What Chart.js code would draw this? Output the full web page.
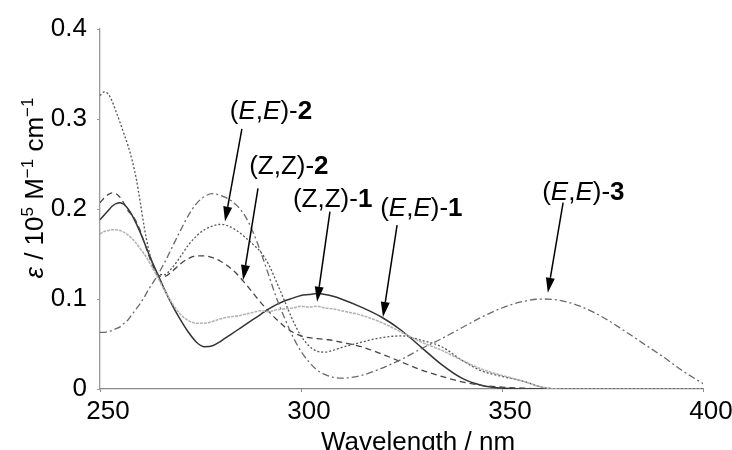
<!DOCTYPE html>
<html>
<head>
<meta charset="utf-8">
<script src="https://cdn.jsdelivr.net/npm/chart.js@4.4.1/dist/chart.umd.min.js"></script>
<style>
  html, body { margin: 0; padding: 0; background: #fff; }
  canvas { display: block; }
</style>
</head>
<body>
<canvas id="c" width="732" height="450"></canvas>
<script>
// ---- data ----
const wavelength = [250,251,252,253,254,255,256,257,258,259,260,261,262,263,264,
  266,268,270,272,274,276,278,280,282,284,286,288,290,292,294,296,298,300,302,304,306,308,310,
  315,320,325,330,335,340,345,350,355,360,365,370,375,380,385,390,395,400];

// (Z,Z)-1  solid
const zz1 = [0.188,0.193,0.198,0.203,0.206,0.207,0.205,0.200,0.193,0.184,0.174,0.163,0.152,0.141,0.131,
  0.111,0.093,0.077,0.063,0.052,0.047,0.048,0.053,0.059,0.065,0.071,0.077,0.083,0.089,0.094,0.098,0.101,0.104,0.105,0.106,0.105,0.103,0.100,
  0.091,0.080,0.065,0.046,0.027,0.012,0.004,0.001,0,0,0,0,0,0,0,0,0,0];

// (E,E)-1  light grey
const ee1 = [0.172,0.175,0.176,0.177,0.177,0.176,0.174,0.171,0.167,0.162,0.156,0.150,0.143,0.135,0.127,
  0.110,0.095,0.083,0.076,0.073,0.073,0.075,0.078,0.080,0.081,0.083,0.085,0.087,0.086,0.088,0.089,0.090,0.092,0.091,0.092,0.090,0.089,0.087,
  0.082,0.074,0.063,0.052,0.043,0.032,0.022,0.015,0.009,0.002,0,0,0,0,0,0,0,0];

// (E,E)-2  fine dotted
const ee2 = [0.326,0.330,0.328,0.320,0.308,0.296,0.283,0.270,0.254,0.234,0.208,0.180,0.157,0.140,0.130,
  0.127,0.135,0.147,0.160,0.170,0.177,0.181,0.183,0.181,0.176,0.169,0.161,0.152,0.138,0.118,0.097,0.076,0.059,0.048,0.042,0.041,0.043,0.046,
  0.052,0.057,0.059,0.054,0.047,0.032,0.020,0.014,0.009,0.002,0,0,0,0,0,0,0,0];

// (Z,Z)-2  dashed
const zz2 = [0.207,0.212,0.216,0.218,0.217,0.213,0.206,0.198,0.193,0.186,0.176,0.163,0.150,0.138,0.128,
  0.125,0.131,0.139,0.145,0.148,0.148,0.146,0.142,0.136,0.128,0.118,0.107,0.096,0.086,0.077,0.069,0.063,0.059,0.057,0.056,0.055,0.054,0.052,
  0.047,0.039,0.030,0.021,0.014,0.008,0.004,0.002,0.001,0,0,0,0,0,0,0,0,0];

// (E,E)-3  dash-dot
const ee3 = [0.063,0.063,0.064,0.065,0.067,0.069,0.073,0.077,0.083,0.089,0.095,0.102,0.110,0.117,0.124,
  0.140,0.158,0.176,0.193,0.206,0.214,0.217,0.215,0.211,0.204,0.193,0.175,0.152,0.126,0.100,0.078,0.058,0.042,0.030,0.021,0.016,0.013,0.012,
  0.015,0.023,0.033,0.045,0.056,0.068,0.080,0.090,0.097,0.100,0.098,0.091,0.080,0.066,0.051,0.036,0.020,0.006];

const xTickValues = [250, 300, 350, 400];
const yTickLabels = ['0', '0.1', '0.2', '0.3', '0.4'];

// annotation labels: [text, style] ; style '' normal, 'i' italic, 'b' bold
const annotations = [
  { label: [['(',''],['E','i'],[',',''],['E','i'],[')-',''],['2','b']], tx: 282.3, ty: 0.300, ax0: 285.3, ay0: 0.289, ax1: 281.1, ay1: 0.186 },
  { label: [['(Z,Z)-',''],['2','b']], tx: 287.1, ty: 0.239, ax0: 289.3, ay0: 0.223, ax1: 285.6, ay1: 0.121 },
  { label: [['(Z,Z)-',''],['1','b']], tx: 298.0, ty: 0.202, ax0: 307.2, ay0: 0.197, ax1: 304.0, ay1: 0.097 },
  { label: [['(',''],['E','i'],[',',''],['E','i'],[')-',''],['1','b']], tx: 319.7, ty: 0.192, ax0: 323.9, ay0: 0.182, ax1: 320.4, ay1: 0.080 },
  { label: [['(',''],['E','i'],[',',''],['E','i'],[')-',''],['3','b']], tx: 360.0, ty: 0.210, ax0: 365.2, ay0: 0.207, ax1: 361.4, ay1: 0.107 }
];

const FAMILY = '"Liberation Sans", Arial, Helvetica, sans-serif';

function pts(arr) { return wavelength.map((w, i) => ({ x: w, y: arr[i] })); }

function fontFor(style) {
  const size = style === 's' ? 17 : 26;
  const pre = style === 'i' ? 'italic ' : (style === 'b' ? 'bold ' : '');
  return pre + size + 'px ' + FAMILY;
}

function drawRich(ctx, segs, x, y, align) {
  let total = 0;
  segs.forEach(s => { ctx.font = fontFor(s[1]); total += ctx.measureText(s[0]).width; });
  let cx = align === 'center' ? x - total / 2 : x;
  ctx.textAlign = 'left';
  ctx.textBaseline = 'alphabetic';
  segs.forEach(s => {
    ctx.font = fontFor(s[1]);
    ctx.fillText(s[0], cx, y + (s[1] === 's' ? -10 : 0));
    cx += ctx.measureText(s[0]).width;
  });
}

function arrow(ctx, x0, y0, x1, y1) {
  const ang = Math.atan2(y1 - y0, x1 - x0);
  const hl = 15, hw = 4.5;
  const bx = x1 - hl * Math.cos(ang), by = y1 - hl * Math.sin(ang);
  ctx.beginPath();
  ctx.lineWidth = 1.5;
  ctx.moveTo(x0, y0);
  ctx.lineTo(bx, by);
  ctx.stroke();
  ctx.beginPath();
  ctx.moveTo(x1, y1);
  ctx.lineTo(bx + hw * Math.sin(ang), by - hw * Math.cos(ang));
  ctx.lineTo(bx - hw * Math.sin(ang), by + hw * Math.cos(ang));
  ctx.closePath();
  ctx.fill();
}

const textPlugin = {
  id: 'texts',
  afterDraw(chart) {
    const ctx = chart.ctx, xs = chart.scales.x, ys = chart.scales.y;
    ctx.save();
    ctx.fillStyle = '#000';
    ctx.strokeStyle = '#000';
    annotations.forEach(a => {
      drawRich(ctx, a.label, xs.getPixelForValue(a.tx), ys.getPixelForValue(a.ty), 'left');
      arrow(ctx, xs.getPixelForValue(a.ax0), ys.getPixelForValue(a.ay0),
                 xs.getPixelForValue(a.ax1), ys.getPixelForValue(a.ay1));
    });
    // x title
    drawRich(ctx, [['Wavelength / nm', '']], 418, 450, 'center');
    // y title
    ctx.translate(43, 188);
    ctx.rotate(-Math.PI / 2);
    drawRich(ctx, [['\u03B5','i'],[' / 10',''],['5','s'],[' M',''],['\u22121','s'],[' cm',''],['\u22121','s']], 0, 0, 'center');
    ctx.restore();
  }
};

const common = { pointRadius: 0, fill: false, cubicInterpolationMode: 'monotone' };

new Chart(document.getElementById('c'), {
  type: 'line',
  data: {
    datasets: [
      Object.assign({ label: '(E,E)-1', data: pts(ee1), borderColor: '#b4b4b4', borderWidth: 1.6, borderDash: [3, 1] }, common),
      Object.assign({ label: '(E,E)-3', data: pts(ee3), borderColor: '#6a6a6a', borderWidth: 1.3, borderDash: [7, 3, 2, 3] }, common),
      Object.assign({ label: '(Z,Z)-2', data: pts(zz2), borderColor: '#444', borderWidth: 1.3, borderDash: [6, 4] }, common),
      Object.assign({ label: '(E,E)-2', data: pts(ee2), borderColor: '#555', borderWidth: 1.3, borderDash: [2, 2] }, common),
      Object.assign({ label: '(Z,Z)-1', data: pts(zz1), borderColor: '#333', borderWidth: 1.5 }, common)
    ]
  },
  options: {
    responsive: false,
    animation: false,
    devicePixelRatio: 1,
    layout: { padding: { top: 29, right: 29, left: 0, bottom: 0 } },
    plugins: { legend: { display: false }, tooltip: { enabled: false } },
    elements: { point: { radius: 0 } },
    scales: {
      x: {
        type: 'linear', min: 250, max: 400,
        afterBuildTicks: s => { s.ticks = xTickValues.map(v => ({ value: v })); },
        ticks: { color: '#000', font: { size: 26, family: FAMILY }, padding: 4, labelOffset: 8, maxRotation: 0, autoSkip: false,
                 callback: v => String(v) },
        grid: { display: true, drawOnChartArea: false, drawTicks: true, tickLength: 3, color: '#888' },
        border: { display: true, color: '#888', width: 1.3 },
        afterFit: s => { s.height = 61; }
      },
      y: {
        type: 'linear', min: 0, max: 0.4,
        afterBuildTicks: s => { s.ticks = yTickLabels.map(t => ({ value: parseFloat(t) })); },
        ticks: { color: '#000', font: { size: 26, family: FAMILY }, padding: 10, autoSkip: false,
                 callback: (v, i) => yTickLabels[i] },
        grid: { display: true, drawOnChartArea: false, drawTicks: true, tickLength: 3, color: '#999' },
        border: { display: true, color: '#999', width: 1.3 },
        afterFit: s => { s.width = 100; }
      }
    }
  },
  plugins: [textPlugin]
});
</script>
</body>
</html>
